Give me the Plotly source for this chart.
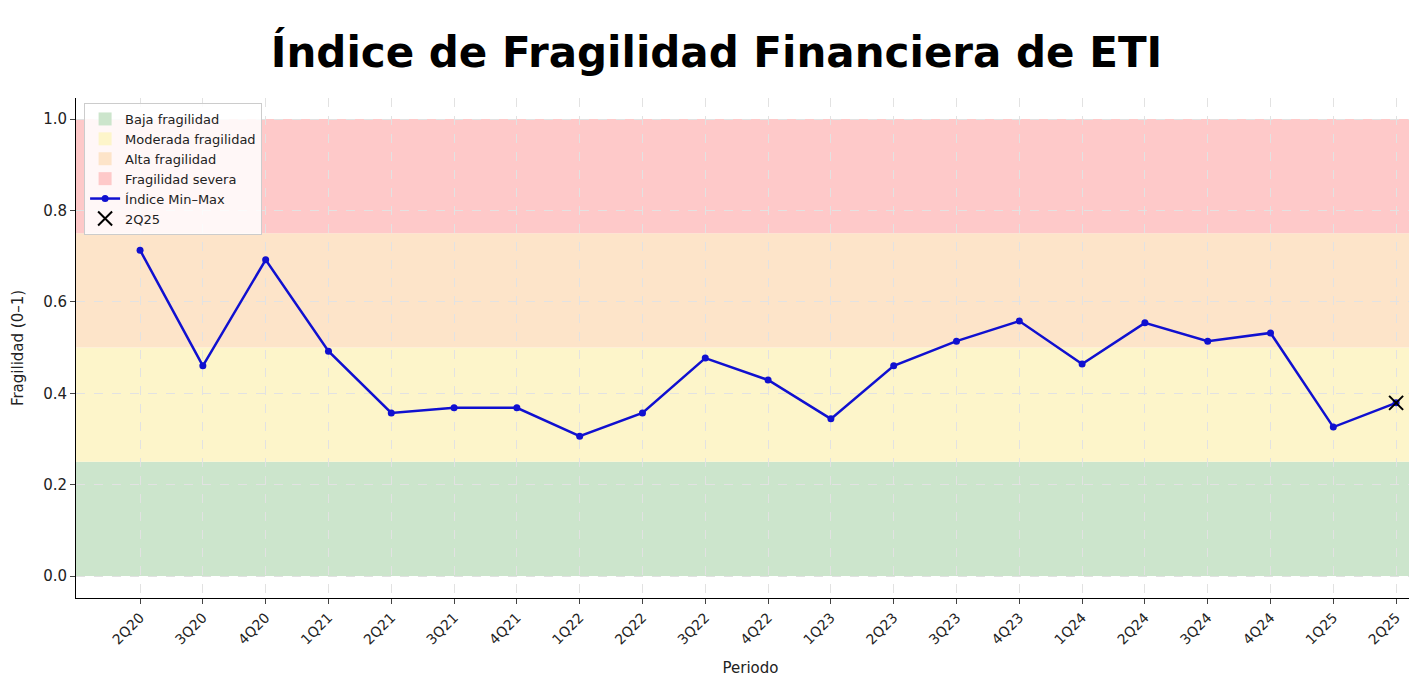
import plotly.graph_objects as go

periodos = ["2Q20", "3Q20", "4Q20", "1Q21", "2Q21", "3Q21", "4Q21", "1Q22", "2Q22", "3Q22", "4Q22",
            "1Q23", "2Q23", "3Q23", "4Q23", "1Q24", "2Q24", "3Q24", "4Q24", "1Q25", "2Q25"]
indice = [0.713, 0.460, 0.692, 0.492, 0.357, 0.368, 0.368, 0.306, 0.357, 0.477, 0.429,
          0.344, 0.460, 0.514, 0.558, 0.464, 0.554, 0.514, 0.532, 0.326, 0.379]

bandas = [("Baja fragilidad", 0.0, 0.25, "#cce5cc"),
          ("Moderada fragilidad", 0.25, 0.5, "#fdf5ca"),
          ("Alta fragilidad", 0.5, 0.75, "#fde4c9"),
          ("Fragilidad severa", 0.75, 1.0, "#fec9c9")]

x = list(range(len(periodos)))
fig = go.Figure()

for nombre, y0, y1, color in bandas:
    fig.add_shape(type="rect", xref="paper", x0=0, x1=1, y0=y0, y1=y1,
                  fillcolor=color, line_width=0, layer="below")
    fig.add_trace(go.Scatter(x=[None], y=[None], mode="markers", name=nombre,
                             marker=dict(symbol="square", size=13, color=color)))

fig.add_trace(go.Scatter(x=x, y=indice, mode="lines+markers", name="Índice Min–Max",
                         line=dict(color="#1010d0", width=2.5),
                         marker=dict(size=7, color="#1010d0")))
fig.add_trace(go.Scatter(x=[x[-1]], y=[indice[-1]], mode="markers", name="2Q25",
                         marker=dict(symbol="x-thin", size=14, color="black",
                                     line=dict(width=2, color="black"))))

fig.update_layout(
    width=1417, height=674,
    margin=dict(l=68, r=0, t=90, b=84),
    paper_bgcolor="white", plot_bgcolor="white",
    font=dict(family="DejaVu Sans", size=14, color="#222"),
    title=dict(text="<b>Índice de Fragilidad Financiera de ETI</b>", x=0.5, y=0.935,
               xanchor="center", yanchor="middle",
               font=dict(family="DejaVu Sans", size=42, color="black")),
    legend=dict(x=0.006, y=0.99, xanchor="left", yanchor="top",
                bgcolor="rgba(255,255,255,0.85)", bordercolor="#cccccc", borderwidth=1,
                font=dict(size=13), tracegroupgap=0),
    showlegend=True,
)
fig.update_xaxes(tickvals=x, ticktext=periodos, tickangle=-45, range=[-1.02, 20.46],
                 title=dict(text="Periodo", font=dict(size=15)), automargin=False,
                 showgrid=True, gridcolor="#e2e2e2", griddash="dash",
                 showline=True, linecolor="black", ticks="outside", zeroline=False,
                 tickfont=dict(size=14))
fig.update_yaxes(range=[-0.048, 1.046], tickvals=[0, 0.2, 0.4, 0.6, 0.8, 1.0], tickformat=".1f",
                 title=dict(text="Fragilidad (0–1)", font=dict(size=15)), automargin=False,
                 showgrid=True, gridcolor="#e2e2e2", griddash="dash",
                 showline=True, linecolor="black", ticks="outside", zeroline=False,
                 tickfont=dict(size=15))

fig.write_html("out.html")
